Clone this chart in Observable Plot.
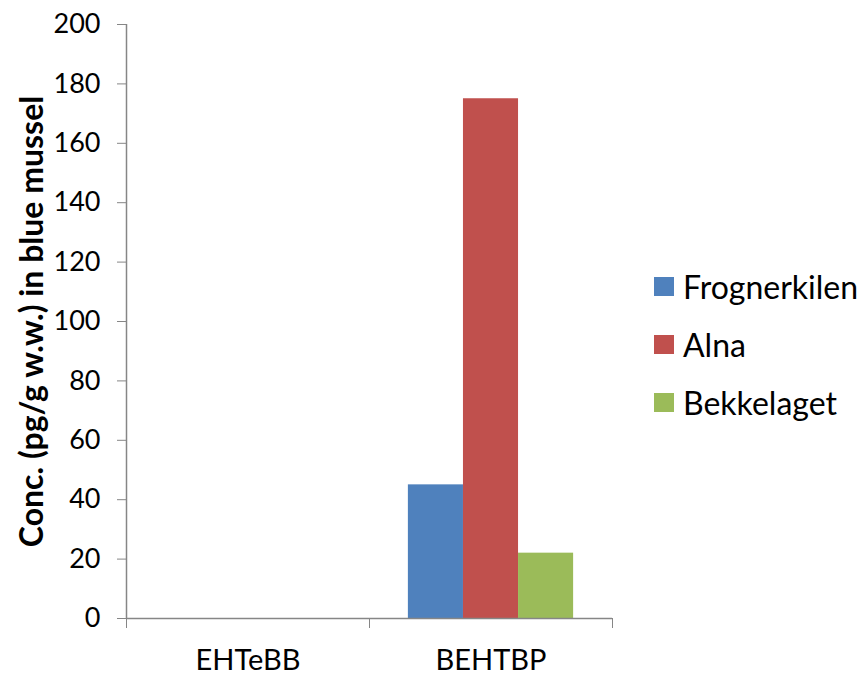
<!DOCTYPE html>
<html>
<head>
<meta charset="utf-8">
<script src="https://cdn.jsdelivr.net/npm/d3@7"></script>
<script src="https://cdn.jsdelivr.net/npm/@observablehq/plot@0.6"></script>
<style>
  html, body { margin: 0; padding: 0; background: #fff; }
  #wrap { position: relative; width: 860px; height: 675px; font-family: Lato, "Open Sans", sans-serif; }
  #chart svg [aria-label*="axis"] path,
  #chart svg [aria-label*="axis"] line { stroke: #868686; }
  #legend { position: absolute; left: 654px; top: 257px; }
  .item { display: flex; align-items: center; height: 58px; font-size: 32px; color: #000; }
  .sw { width: 20px; height: 19px; margin-right: 9px; }
</style>
</head>
<body>
<div id="wrap"><div id="chart"></div><div id="legend"></div></div>
<script>
const categories = ["EHTeBB", "BEHTBP"];
const series = ["Frognerkilen", "Alna", "Bekkelaget"];
const frognerkilen = [0, 45];
const alna = [0, 175];
const bekkelaget = [0, 22];
const colors = ["#4F81BD", "#C0504D", "#9BBB59"];
const yTicks = [0, 20, 40, 60, 80, 100, 120, 140, 160, 180, 200];
const yTitle = "Conc. (pg/g w.w.) in blue mussel";

const valuesBySeries = [frognerkilen, alna, bekkelaget];
const rows = [];
series.forEach((s, si) => categories.forEach((c, ci) => {
  rows.push({category: c, ci, series: s, value: valuesBySeries[si][ci]});
}));
// position of each series bar inside a category slot
const inner = d3.scaleBand(series, [0.16, 0.84]);

const chart = Plot.plot({
  width: 860,
  height: 675,
  marginTop: 24,
  marginBottom: 57,
  marginLeft: 126,
  marginRight: 248,
  style: {fontFamily: "Lato, 'Open Sans', sans-serif", fontSize: "27px", color: "#000", background: "#fff"},
  x: {type: "linear", domain: [0, categories.length], ticks: d3.range(categories.length + 1), tickFormat: () => "", tickSize: 10, label: null},
  y: {domain: [0, 200], ticks: yTicks, tickSize: 9, tickPadding: 17, label: null},
  color: {domain: series, range: colors},
  marks: [
    Plot.rectY(rows, {
      x1: d => d.ci + inner(d.series),
      x2: d => d.ci + inner(d.series) + inner.bandwidth(),
      y1: 0,
      y2: "value",
      fill: "series"
    }),
    Plot.ruleY([0], {stroke: "#868686", strokeWidth: 1.5}),
    Plot.ruleX([0], {stroke: "#868686", strokeWidth: 1.5}),
    Plot.text(categories, {
      x: (d, i) => i + 0.5, y: 0, dy: 42, text: d => d,
      fontSize: 29, fill: "#000"
    }),
    Plot.text([yTitle], {
      frameAnchor: "left", dx: -94, rotate: -90, textAnchor: "middle", text: d => d,
      fontSize: 32, fontWeight: "bold", fill: "#000"
    })
  ]
});
document.getElementById("chart").appendChild(chart);

const legend = document.getElementById("legend");
series.forEach((s, i) => {
  const item = document.createElement("div");
  item.className = "item";
  const sw = document.createElement("span");
  sw.className = "sw";
  sw.style.background = colors[i];
  const t = document.createElement("span");
  t.textContent = s;
  item.appendChild(sw);
  item.appendChild(t);
  legend.appendChild(item);
});
</script>
</body>
</html>
